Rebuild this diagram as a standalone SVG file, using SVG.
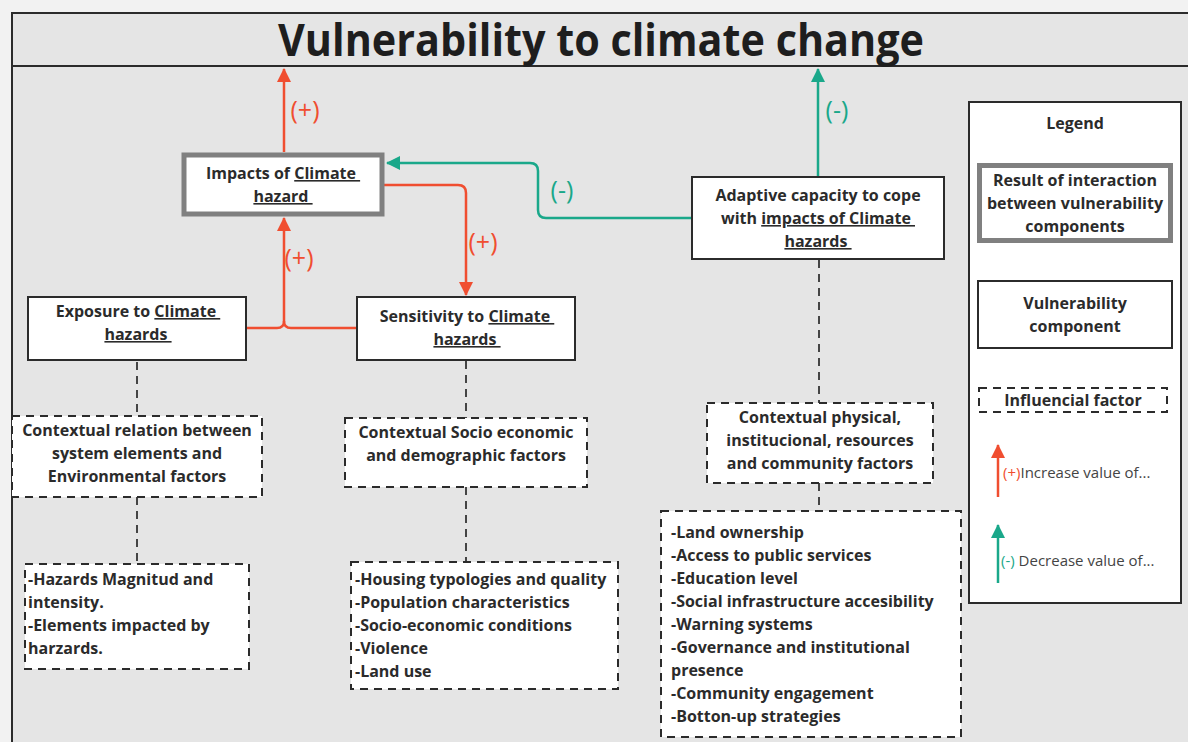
<svg xmlns="http://www.w3.org/2000/svg" width="1188" height="742" viewBox="0 0 1188 742">
<defs>
<style>
text{font-family:"Open Sans","Noto Sans","Liberation Sans",sans-serif;fill:#2b2b2b}
.b{font-weight:bold;font-size:16px}
.c{text-anchor:middle}
.u{text-decoration:underline}
.box{fill:#fff;stroke:#2b2b2b;stroke-width:2}
.res{fill:#fff;stroke:#808080;stroke-width:5}
.dash{fill:#fff;stroke:#2b2b2b;stroke-width:2;stroke-dasharray:8 6}
.dl{fill:none;stroke:#444;stroke-width:2;stroke-dasharray:8 6}
.red{fill:none;stroke:#f04e30;stroke-width:2.5}
.teal{fill:none;stroke:#1aa88a;stroke-width:2.5}
.lr{fill:#f04e30;font-size:25px}
.lt{fill:#1aa88a;font-size:25px}
</style>
<marker id="ar" viewBox="0 0 14 14" markerWidth="14" markerHeight="14" refX="13" refY="7" orient="auto" markerUnits="userSpaceOnUse"><path d="M0,0 L14,7 L0,14 z" fill="#f04e30"/></marker>
<marker id="at" viewBox="0 0 14 14" markerWidth="14" markerHeight="14" refX="13" refY="7" orient="auto" markerUnits="userSpaceOnUse"><path d="M0,0 L14,7 L0,14 z" fill="#1aa88a"/></marker>
</defs>
<rect x="0" y="0" width="1188" height="742" fill="#f2f2f2"/>
<rect x="12" y="13" width="1190" height="740" fill="#e5e5e5" stroke="#2b2b2b" stroke-width="2"/>
<line x1="12" y1="66" x2="1188" y2="66" stroke="#2b2b2b" stroke-width="2"/>
<g id="title"><text x="601" y="56" class="c" style="font-size:44px;font-weight:bold;fill:#1e1e1e" textLength="646" lengthAdjust="spacingAndGlyphs">Vulnerability to climate change</text></g>

<g id="connectors">
<path class="red" d="M284,152 V69" marker-end="url(#ar)"/>
<path class="red" d="M384,185 H458 Q466,185 466,193 V295" marker-end="url(#ar)"/>
<path class="red" d="M246,328 H277 Q284,328 284,321 V218" marker-end="url(#ar)"/>
<path class="red" d="M357,328 H291 Q284,328 284,321"/>
<path class="teal" d="M692,218 H546 Q538,218 538,210 V171 Q538,163 530,163 H387" marker-end="url(#at)"/>
<path class="teal" d="M818,177 V69" marker-end="url(#at)"/>
<path class="dl" d="M137,362 V416"/>
<path class="dl" d="M137,497 V564"/>
<path class="dl" d="M466,361 V418"/>
<path class="dl" d="M466,487 V562"/>
<path class="dl" d="M819,260 V403"/>
<path class="dl" d="M819,483 V511"/>
<text x="305" y="119" class="lr c">(+)</text>
<text x="299" y="267" class="lr c">(+)</text>
<text x="483" y="251" class="lr c">(+)</text>
<text x="562" y="199" class="lt c">(-)</text>
<text x="837" y="119" class="lt c">(-)</text>
</g>

<g id="impacts">
<rect class="res" x="184" y="155" width="198" height="59"/>
<text class="b c" x="283" y="179">Impacts of <tspan class="u">Climate&#160;</tspan></text>
<text class="b c" x="283" y="202"><tspan class="u">hazard&#160;</tspan></text>
</g>

<g id="exposure">
<rect class="box" x="28" y="297" width="218" height="63"/>
<text class="b c" x="138" y="317">Exposure to <tspan class="u">Climate&#160;</tspan></text>
<text class="b c" x="138" y="340"><tspan class="u">hazards&#160;</tspan></text>
</g>

<g id="sensitivity">
<rect class="box" x="357" y="297" width="218" height="63"/>
<text class="b c" x="467" y="322">Sensitivity to <tspan class="u">Climate&#160;</tspan></text>
<text class="b c" x="467" y="345"><tspan class="u">hazards&#160;</tspan></text>
</g>

<g id="adaptive">
<rect class="box" x="692" y="177" width="252" height="82"/>
<text class="b c" x="818" y="201">Adaptive capacity to cope</text>
<text class="b c" x="818" y="224">with <tspan class="u">impacts of Climate&#160;</tspan></text>
<text class="b c" x="818" y="247"><tspan class="u">hazards&#160;</tspan></text>
</g>

<g id="ctx-env">
<rect class="dash" x="12" y="416" width="250" height="81"/>
<text class="b c" x="137" y="436">Contextual relation between</text>
<text class="b c" x="137" y="459">system elements and</text>
<text class="b c" x="137" y="482">Environmental factors</text>
</g>

<g id="ctx-socio">
<rect class="dash" x="345" y="418" width="242" height="69"/>
<text class="b c" x="466" y="438">Contextual Socio economic</text>
<text class="b c" x="466" y="461">and demographic factors</text>
</g>

<g id="ctx-phys">
<rect class="dash" x="707" y="403" width="226" height="80"/>
<text class="b c" x="820" y="423">Contextual physical,</text>
<text class="b c" x="820" y="446">institucional, resources</text>
<text class="b c" x="820" y="469">and community factors</text>
</g>

<g id="list-env">
<rect class="dash" x="25" y="564" width="224" height="105"/>
<text class="b" x="28" y="585">-Hazards Magnitud and</text>
<text class="b" x="28" y="608">intensity.</text>
<text class="b" x="28" y="631">-Elements impacted by</text>
<text class="b" x="28" y="654">harzards.</text>
</g>

<g id="list-socio">
<rect class="dash" x="351" y="562" width="267" height="127"/>
<text class="b" x="355" y="585">-Housing typologies and quality</text>
<text class="b" x="355" y="608">-Population characteristics</text>
<text class="b" x="355" y="631">-Socio-economic conditions</text>
<text class="b" x="355" y="654">-Violence</text>
<text class="b" x="355" y="677">-Land use</text>
</g>

<g id="list-phys">
<rect class="dash" x="661" y="511" width="300" height="226"/>
<text class="b" x="671" y="538">-Land ownership</text>
<text class="b" x="671" y="561">-Access to public services</text>
<text class="b" x="671" y="584">-Education level</text>
<text class="b" x="671" y="607">-Social infrastructure accesibility</text>
<text class="b" x="671" y="630">-Warning systems</text>
<text class="b" x="671" y="653">-Governance and institutional</text>
<text class="b" x="671" y="676">presence</text>
<text class="b" x="671" y="699">-Community engagement</text>
<text class="b" x="671" y="722">-Botton-up strategies</text>
</g>

<g id="legend">
<rect x="969" y="102" width="212" height="501" fill="#fff" stroke="#2b2b2b" stroke-width="2"/>
<text class="b c" x="1075" y="129">Legend</text>
<rect class="res" x="979.5" y="165.5" width="191" height="75"/>
<text class="b c" x="1075" y="186">Result of interaction</text>
<text class="b c" x="1075" y="209">between vulnerability</text>
<text class="b c" x="1075" y="232">components</text>
<rect class="box" x="978" y="281" width="194" height="67"/>
<text class="b c" x="1075" y="309">Vulnerability</text>
<text class="b c" x="1075" y="332">component</text>
<rect class="dash" x="979" y="388" width="188" height="24"/>
<text class="b c" x="1073" y="406">Influencial factor</text>
<path class="red" d="M998,497 V445" marker-end="url(#ar)"/>
<text x="1003" y="478" style="font-size:15px"><tspan style="fill:#f04e30">(+)</tspan><tspan style="fill:#444">Increase value of...</tspan></text>
<path class="teal" d="M998,583 V525" marker-end="url(#at)"/>
<text x="1001" y="566" style="font-size:15px"><tspan style="fill:#1aa88a">(-)</tspan><tspan style="fill:#444"> Decrease value of...</tspan></text>
</g>
</svg>
